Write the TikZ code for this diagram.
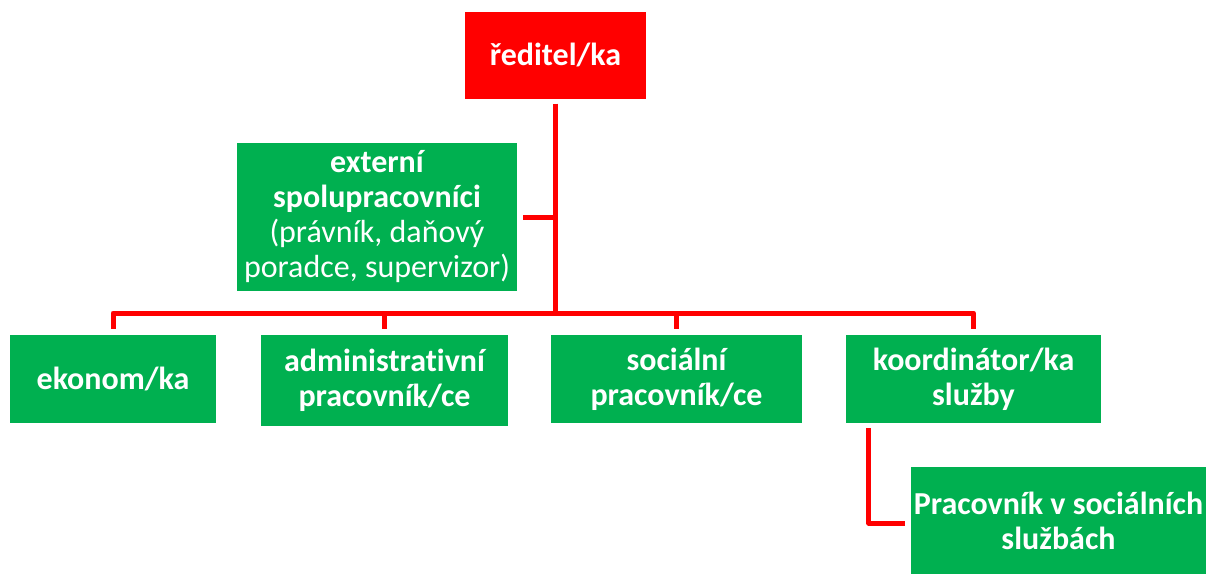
\documentclass[tikz,border=0pt]{standalone}
\usepackage{fontspec}
\setmainfont[Ligatures=NoCommon]{Carlito}
\definecolor{boxred}{HTML}{FF0000}
\definecolor{boxgreen}{HTML}{00B050}
\begin{document}
\begin{tikzpicture}[x=1pt,y=-1pt,
  box/.style={fill=boxgreen, text=white, align=center, inner sep=0pt,
    font=\fontsize{32}{35}\selectfont\bfseries},
  topbox/.style={box, fill=boxred},
  conn/.style={draw=boxred, line width=5pt, line join=round}]
\useasboundingbox (0,0) rectangle (1206,574);
\node[topbox, minimum width=181pt, minimum height=87pt] (dir) at (555.5,55) {ředitel/ka};
\node[box, minimum width=280pt, minimum height=148pt] (ext) at (377,217)
  {externí\\spolupracovníci\\\mdseries(právník, daňový\\\mdseries poradce, supervizor)};
\node[box, minimum width=206pt, minimum height=88pt] (ekon) at (113,379) {ekonom/ka};
\node[box, minimum width=247pt, minimum height=91pt] (adm) at (384.5,380.5) {administrativní\\pracovník/ce};
\node[box, minimum width=251pt, minimum height=88pt] (soc) at (676.5,379) {sociální\\pracovník/ce};
\node[box, minimum width=255pt, minimum height=88pt] (koord) at (973.5,379) {koordinátor/ka\\služby};
\node[box, minimum width=295pt, minimum height=107pt] (prac) at (1058.5,520.5) {Pracovník v sociálních\\službách};
\coordinate (bus) at (555.5,313);
\draw[conn] ([yshift=-5pt]dir.south) -- (dir.south |- bus);
\draw[conn] ([xshift=6pt]ext.east) -- (ext.east -| bus);
\draw[conn] ([yshift=6pt]ekon.north) -- (ekon.north |- bus) -- (koord.north |- bus) -- ([yshift=6pt]koord.north);
\draw[conn] (adm.north |- bus) -- ([yshift=6pt]adm.north);
\draw[conn] (soc.north |- bus) -- ([yshift=6pt]soc.north);
\draw[conn] ([xshift=23pt,yshift=-5pt]koord.south west) |- ([xshift=-6pt,yshift=-2.5pt]prac.west);
\end{tikzpicture}
\end{document}
